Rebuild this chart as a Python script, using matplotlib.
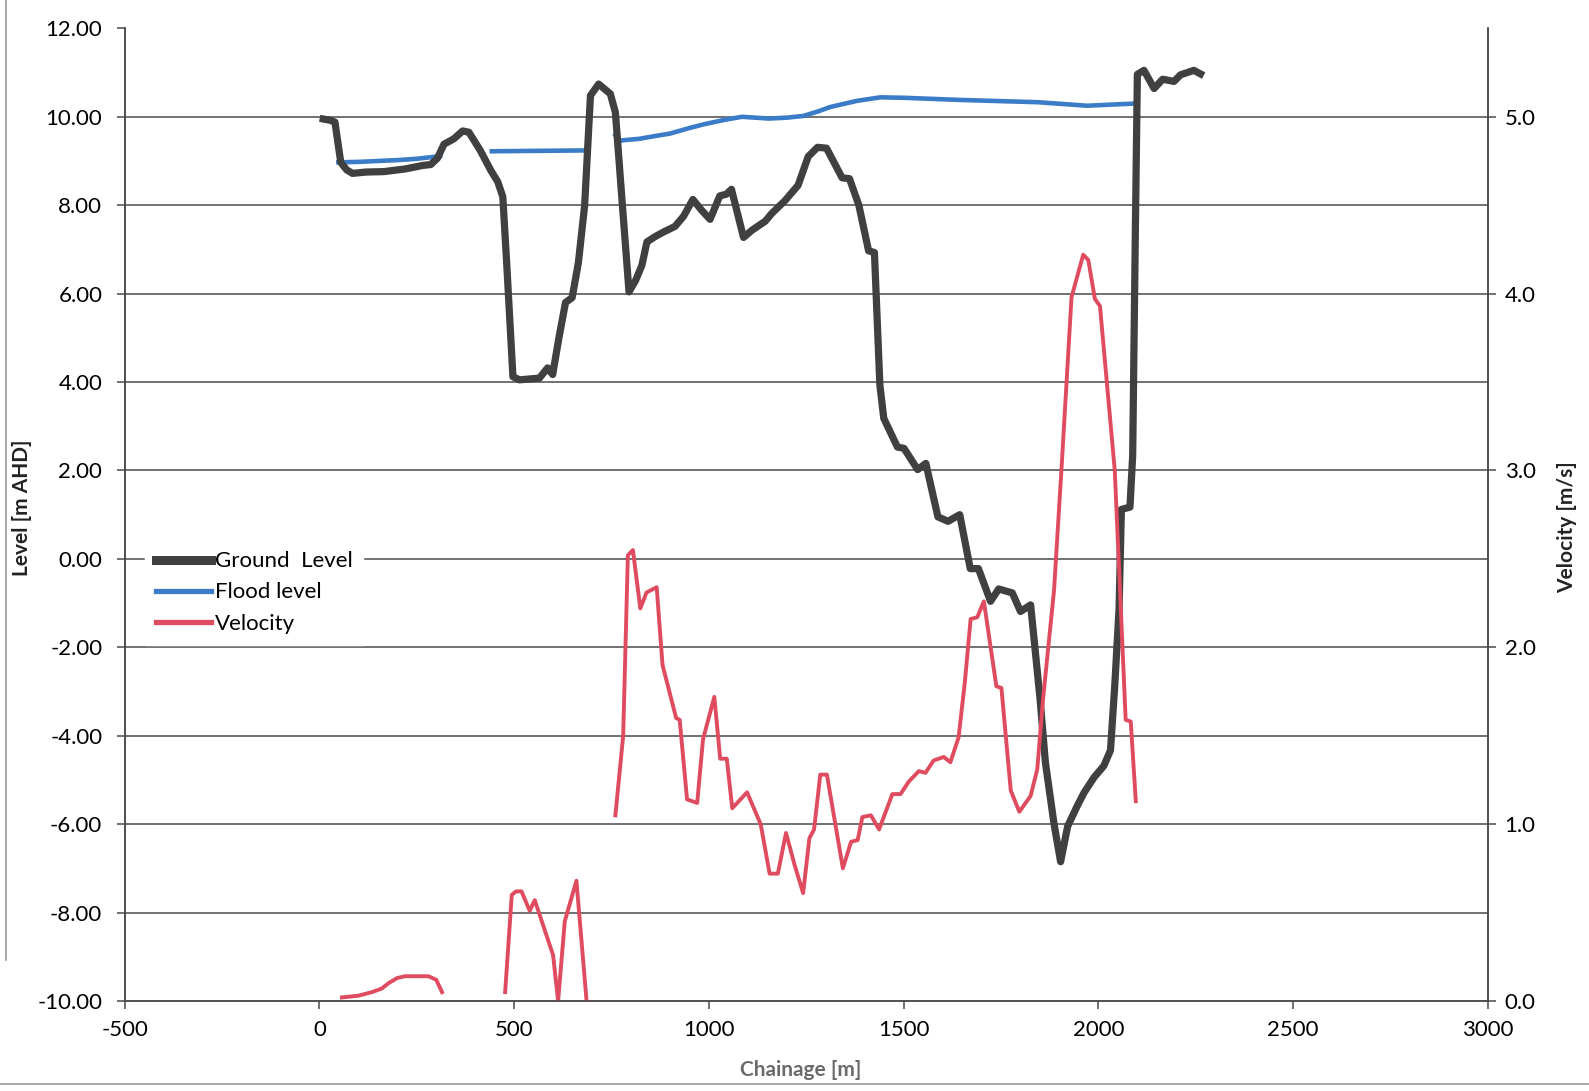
import matplotlib
matplotlib.use('Agg')
import matplotlib.pyplot as plt
from matplotlib.lines import Line2D
from matplotlib.ticker import FormatStrFormatter

plt.rcParams['font.family'] = ['Lato', 'DejaVu Sans']
plt.rcParams['axes.unicode_minus'] = False

# Ground level profile (chainage m, level m AHD)
ground_ch = [10, 28, 40, 55, 70, 85, 120, 166, 220, 266, 286, 303, 320, 345, 368, 384, 413, 440,
             458, 471, 481, 497, 514, 540, 565, 586, 599, 615, 632, 649, 665, 681, 696, 717, 747,
             760, 778, 795, 812, 828, 841, 862, 885, 913, 935, 959, 980, 1003, 1028, 1045, 1058,
             1089, 1110, 1145, 1161, 1195, 1229, 1255, 1279, 1302, 1342, 1361, 1385, 1410, 1425,
             1439, 1449, 1484, 1501, 1536, 1557, 1588, 1614, 1644, 1671, 1692, 1723, 1744, 1779,
             1800, 1826, 1850, 1864, 1886, 1903, 1921, 1945, 1963, 1989, 2014, 2031, 2042, 2053,
             2059, 2081, 2088, 2095, 2100, 2117, 2143, 2165, 2194, 2211, 2245, 2262]
ground_lv = [9.95, 9.92, 9.88, 8.97, 8.8, 8.72, 8.75, 8.76, 8.82, 8.9, 8.92, 9.06, 9.38, 9.5,
             9.68, 9.65, 9.24, 8.79, 8.53, 8.19, 6.68, 4.12, 4.05, 4.07, 4.09, 4.32, 4.17, 5.0,
             5.8, 5.91, 6.7, 7.99, 10.48, 10.74, 10.52, 10.1, 8.0, 6.04, 6.3, 6.64, 7.17, 7.29,
             7.4, 7.52, 7.75, 8.13, 7.9, 7.68, 8.21, 8.25, 8.36, 7.27, 7.43, 7.64, 7.81, 8.1,
             8.45, 9.1, 9.31, 9.29, 8.62, 8.6, 8.0, 6.97, 6.93, 3.93, 3.18, 2.53, 2.5, 2.02,
             2.16, 0.95, 0.85, 1.0, -0.22, -0.22, -0.96, -0.68, -0.77, -1.19, -1.04, -3.15,
             -4.61, -5.99, -6.85, -6.05, -5.6, -5.29, -4.94, -4.68, -4.33, -2.86, -1.13, 1.12,
             1.17, 2.34, 7.53, 10.96, 11.05, 10.64, 10.85, 10.8, 10.95, 11.05, 10.97]

# Flood level, three wet reaches
flood1_ch = [49, 100, 150, 200, 250, 310]
flood1_lv = [8.97, 8.98, 9.0, 9.02, 9.05, 9.11]
flood2_ch = [443, 691]
flood2_lv = [9.22, 9.24]
flood3_ch = [760, 770, 780, 820, 859, 900, 952, 987, 1040, 1085, 1154, 1200, 1243, 1280, 1311,
             1380, 1440, 1500, 1648, 1844, 1971, 2094]
flood3_lv = [9.58, 9.45, 9.47, 9.5, 9.56, 9.62, 9.75, 9.83, 9.93, 10.0, 9.96, 9.98, 10.02,
             10.12, 10.22, 10.36, 10.44, 10.43, 10.38, 10.33, 10.25, 10.3]

# Velocity (m/s), same reaches
vel1_ch = [58, 100, 135, 160, 177, 200, 220, 280, 300, 315]
vel1_v = [0.02, 0.03, 0.05, 0.07, 0.1, 0.13, 0.14, 0.14, 0.12, 0.05]
vel2_ch = [477, 494, 505, 519, 540, 553, 600, 613, 630, 660, 686]
vel2_v = [0.05, 0.6, 0.62, 0.62, 0.51, 0.57, 0.26, 0.0, 0.45, 0.68, 0.0]
vel3_ch = [760, 780, 792, 805, 824, 840, 866, 881, 916, 925, 944, 970, 985, 1014, 1029, 1046,
           1060, 1098, 1133, 1156, 1177, 1198, 1220, 1242, 1258, 1270, 1286, 1303, 1344, 1365,
           1382, 1394, 1416, 1437, 1471, 1492, 1513, 1539, 1556, 1577, 1603, 1620, 1641, 1657,
           1672, 1689, 1706, 1738, 1751, 1775, 1797, 1826, 1843, 1858, 1886, 1905, 1931, 1961,
           1974, 1991, 2004, 2042, 2070, 2083, 2096]
vel3_v = [1.05, 1.5, 2.52, 2.55, 2.22, 2.31, 2.34, 1.9, 1.6, 1.59, 1.14, 1.12, 1.48, 1.72,
          1.37, 1.37, 1.09, 1.18, 1.0, 0.72, 0.72, 0.95, 0.77, 0.61, 0.92, 0.97, 1.28, 1.28,
          0.75, 0.9, 0.91, 1.04, 1.05, 0.97, 1.17, 1.17, 1.24, 1.3, 1.29, 1.36, 1.38, 1.35,
          1.49, 1.8, 2.16, 2.17, 2.26, 1.78, 1.77, 1.19, 1.07, 1.16, 1.31, 1.71, 2.32, 3.0,
          3.98, 4.22, 4.19, 3.97, 3.93, 3.0, 1.59, 1.58, 1.13]

level_ticks = list(range(-10, 13, 2))
vel_ticks = [0, 1, 2, 3, 4, 5]
chain_ticks = list(range(-500, 3001, 500))

GROUND = '#404040'
FLOOD = '#3b7cc8'
VEL = '#df4b5f'
GRID = '#4a4a4a'

fig = plt.figure(figsize=(15.89, 10.91), dpi=100)
ax = fig.add_axes([0.0784, 0.0825, 0.858, 0.8915])
ax2 = ax.twinx()

for lv in level_ticks[1:-1]:
    ax.axhline(lv, color=GRID, lw=1.1, zorder=0)

ax.plot(ground_ch, ground_lv, color=GROUND, lw=5.2, solid_joinstyle='round', zorder=3)
for xs, ys in [(flood1_ch, flood1_lv), (flood2_ch, flood2_lv), (flood3_ch, flood3_lv)]:
    ax.plot(xs, ys, color=FLOOD, lw=3.3, zorder=2)
for xs, ys in [(vel1_ch, vel1_v), (vel2_ch, vel2_v), (vel3_ch, vel3_v)]:
    ax2.plot(xs, ys, color=VEL, lw=2.8)

ax.set_xlim(-500, 3000)
ax.set_ylim(-10, 12)
ax2.set_ylim(0, 5.5)
ax.set_xticks(chain_ticks)
ax.set_yticks(level_ticks)
ax2.set_yticks(vel_ticks)
ax.yaxis.set_major_formatter(FormatStrFormatter('%.2f'))
ax2.yaxis.set_major_formatter(FormatStrFormatter('%.1f'))

for a in (ax, ax2):
    a.spines['top'].set_visible(False)
    for s in ('left', 'right', 'bottom'):
        a.spines[s].set_color(GRID)
        a.spines[s].set_linewidth(1.1)
ax.tick_params(axis='y', length=6, width=1.1, color=GRID, pad=10, labelsize=16)
ax.tick_params(axis='x', length=6, width=1.1, color=GRID, pad=8, labelsize=16)
ax2.tick_params(axis='y', length=6, width=1.1, color=GRID, pad=6, labelsize=16)

fig.text(0.014, 0.535, 'Level [m AHD]', rotation=90, ha='center', va='center',
         fontsize=15, fontweight='bold', color='#222222')
fig.text(0.986, 0.517, 'Velocity [m/s]', rotation=90, ha='center', va='center',
         fontsize=15, fontweight='bold', color='#222222')
fig.text(0.504, 0.019, 'Chainage [m]', ha='center', va='center',
         fontsize=15, fontweight='bold', color='#6a6a6a')

handles = [Line2D([], [], color=GROUND, lw=6.5),
           Line2D([], [], color=FLOOD, lw=3.8),
           Line2D([], [], color=VEL, lw=3.8)]
leg = ax2.legend(handles, ['Ground  Level', 'Flood level', 'Velocity'],
                 loc='upper left', bbox_to_anchor=(0.084, 0.515), bbox_transform=fig.transFigure,
                 frameon=True, fontsize=16, handlelength=2.5, handletextpad=0.15,
                 labelspacing=0.5, borderpad=0.5, fancybox=False)
leg.get_frame().set_facecolor('white')
leg.get_frame().set_edgecolor('white')
leg.get_frame().set_alpha(1)
leg.set_zorder(10)

# scan page edges
fig.add_artist(Line2D([0.004, 0.004], [0.12, 1.0], transform=fig.transFigure, color='#9a9a9a', lw=1.2))
fig.add_artist(Line2D([0.0, 1.0], [0.006, 0.006], transform=fig.transFigure, color='#9a9a9a', lw=1.2))

fig.savefig('out.png', dpi=100)
